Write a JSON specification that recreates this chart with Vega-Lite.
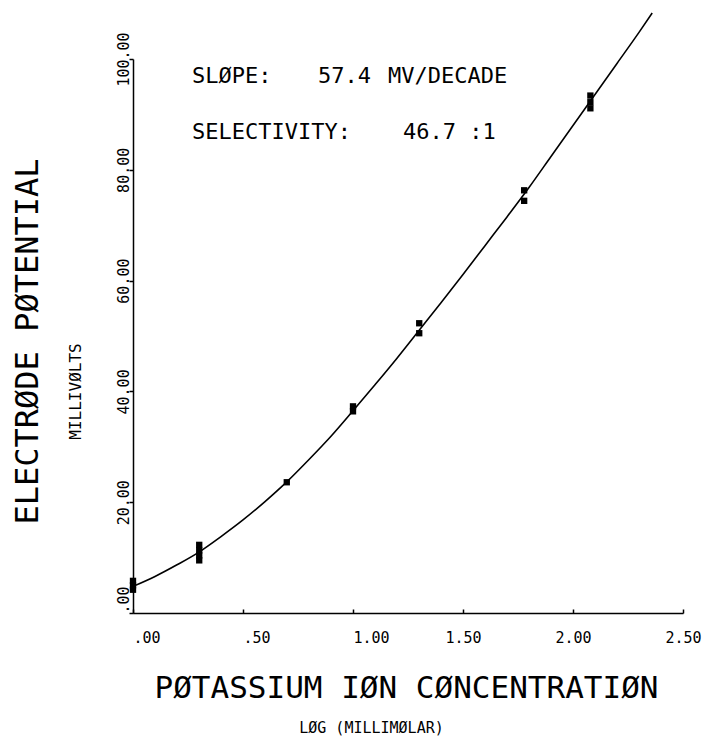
{
  "$schema": "https://vega.github.io/schema/vega-lite/v6.json",
  "autosize": "none",
  "width": 550,
  "height": 554,
  "padding": {"left": 133, "top": 59, "right": 22, "bottom": 127},
  "background": "white",
  "config": {
    "view": {"stroke": null},
    "axis": {"grid": false, "domainColor": "black", "tickColor": "black", "labelColor": "black", "titleColor": "black", "domainWidth": 1.5, "tickWidth": 1.5, "titleFontWeight": "normal"}
  },
  "datasets": {
    "curve": [
      {"logc": 0.0, "mv": 4.8}, {"logc": 0.1, "mv": 6.6}, {"logc": 0.2, "mv": 8.7}, {"logc": 0.3, "mv": 11.0},
      {"logc": 0.4, "mv": 13.8}, {"logc": 0.5, "mv": 16.8}, {"logc": 0.6, "mv": 20.1}, {"logc": 0.7, "mv": 23.7},
      {"logc": 0.8, "mv": 27.7}, {"logc": 0.9, "mv": 31.9}, {"logc": 1.0, "mv": 36.5}, {"logc": 1.1, "mv": 41.2},
      {"logc": 1.2, "mv": 46.0}, {"logc": 1.3, "mv": 51.0}, {"logc": 1.4, "mv": 56.0}, {"logc": 1.5, "mv": 61.1},
      {"logc": 1.6, "mv": 66.3}, {"logc": 1.7, "mv": 71.5}, {"logc": 1.8, "mv": 76.8}, {"logc": 1.9, "mv": 82.4},
      {"logc": 2.0, "mv": 88.0}, {"logc": 2.1, "mv": 93.6}, {"logc": 2.2, "mv": 99.2}, {"logc": 2.3, "mv": 104.8},
      {"logc": 2.36, "mv": 108.3}
    ],
    "points": [
      {"logc": 0.0, "mv": 4.2}, {"logc": 0.0, "mv": 5.0}, {"logc": 0.0, "mv": 5.8},
      {"logc": 0.301, "mv": 9.5}, {"logc": 0.301, "mv": 10.4}, {"logc": 0.301, "mv": 11.3}, {"logc": 0.301, "mv": 12.3},
      {"logc": 0.699, "mv": 23.6},
      {"logc": 1.0, "mv": 36.4}, {"logc": 1.0, "mv": 37.3},
      {"logc": 1.301, "mv": 50.5}, {"logc": 1.301, "mv": 52.3},
      {"logc": 1.778, "mv": 74.4}, {"logc": 1.778, "mv": 76.3},
      {"logc": 2.079, "mv": 91.1}, {"logc": 2.079, "mv": 92.2}, {"logc": 2.079, "mv": 93.4}
    ],
    "notes": [
      {"label": "SLØPE:", "logc": 0.268, "mv": 95.7},
      {"label": "57.4", "logc": 0.841, "mv": 95.7},
      {"label": "MV/DECADE", "logc": 1.159, "mv": 95.7},
      {"label": "SELECTIVITY:", "logc": 0.268, "mv": 85.6},
      {"label": "46.7 :1", "logc": 1.227, "mv": 85.6}
    ]
  },
  "resolve": {"scale": {"x": "independent", "y": "independent"}, "axis": {"x": "independent", "y": "independent"}},
  "layer": [
    {
      "data": {"name": "curve"},
      "mark": {"type": "line", "color": "black", "strokeWidth": 1.6, "interpolate": "monotone"},
      "encoding": {
        "x": {
          "field": "logc", "type": "quantitative",
          "scale": {"domain": [0, 2.5], "nice": false, "zero": false},
          "axis": {
            "orient": "bottom",
            "values": [0, 0.5, 1, 1.5, 2, 2.5],
            "labelExpr": "datum.value == 0 ? '.00' : datum.value == 0.5 ? '.50' : format(datum.value, '.2f')",
            "labelFont": "DejaVu Sans Mono", "labelFontSize": 15, "labelAngle": 0,
            "labelBaseline": "top",
            "labelAlign": {"condition": {"test": "datum.value <= 1", "value": "left"}, "value": "center"},
            "labelPadding": 21, "tickSize": -4, "labelFlush": false, "labelOverlap": false,
            "title": "PØTASSIUM IØN CØNCENTRATIØN",
            "titleFont": "DejaVu Sans Mono", "titleFontSize": 31,
            "titleX": 273, "titleY": 84, "titleAlign": "center", "titleBaseline": "alphabetic", "titleAngle": 0
          }
        },
        "y": {
          "field": "mv", "type": "quantitative",
          "scale": {"domain": [0, 100], "nice": false, "zero": false},
          "axis": {
            "orient": "left",
            "values": [0, 20, 40, 60, 80, 100],
            "labelExpr": "datum.value == 0 ? '.00' : format(datum.value, '.2f')",
            "labelFont": "DejaVu Sans Mono", "labelFontSize": 15, "labelAngle": 270,
            "labelBaseline": "alphabetic",
            "labelAlign": {"condition": {"test": "datum.value == 0", "value": "left"}, "value": "center"},
            "labelPadding": 1, "tickSize": 4, "labelFlush": false, "labelOverlap": false,
            "title": "ELECTRØDE PØTENTIAL",
            "titleFont": "DejaVu Sans Mono", "titleFontSize": 32,
            "titleAngle": 270, "titleX": -96, "titleY": 282, "titleAlign": "center", "titleBaseline": "alphabetic"
          }
        }
      }
    },
    {
      "data": {"name": "points"},
      "mark": {"type": "point", "shape": "square", "filled": true, "color": "black", "size": 40, "opacity": 1},
      "encoding": {
        "x": {
          "field": "logc", "type": "quantitative",
          "scale": {"domain": [0, 2.5], "nice": false, "zero": false},
          "axis": {
            "orient": "bottom", "labels": false, "ticks": false, "domain": false,
            "title": "LØG (MILLIMØLAR)",
            "titleFont": "DejaVu Sans Mono", "titleFontSize": 15,
            "titleX": 238, "titleY": 119, "titleAlign": "center", "titleBaseline": "alphabetic", "titleAngle": 0
          }
        },
        "y": {
          "field": "mv", "type": "quantitative",
          "scale": {"domain": [0, 100], "nice": false, "zero": false},
          "axis": {
            "orient": "left", "labels": false, "ticks": false, "domain": false,
            "title": "MILLIVØLTS",
            "titleFont": "DejaVu Sans Mono", "titleFontSize": 16,
            "titleAngle": 270, "titleX": -53, "titleY": 332, "titleAlign": "center", "titleBaseline": "alphabetic"
          }
        }
      }
    },
    {
      "data": {"name": "notes"},
      "mark": {"type": "text", "font": "DejaVu Sans Mono", "fontSize": 22, "align": "left", "baseline": "alphabetic", "color": "black"},
      "encoding": {
        "x": {"field": "logc", "type": "quantitative", "scale": {"domain": [0, 2.5], "nice": false, "zero": false}, "axis": null},
        "y": {"field": "mv", "type": "quantitative", "scale": {"domain": [0, 100], "nice": false, "zero": false}, "axis": null},
        "text": {"field": "label"}
      }
    }
  ]
}
